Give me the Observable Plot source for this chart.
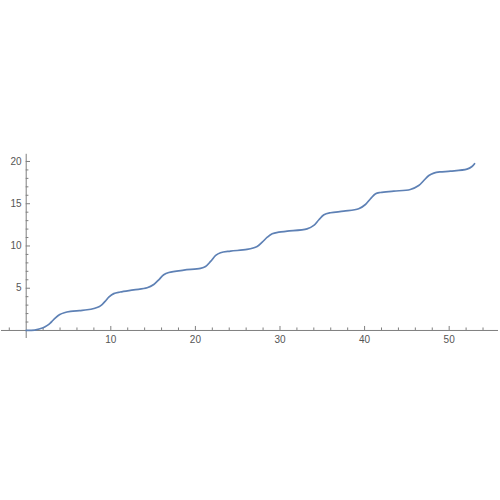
<!DOCTYPE html>
<html>
<head>
<meta charset="utf-8">
<script src="https://cdn.jsdelivr.net/npm/d3@7"></script>
<script src="https://cdn.jsdelivr.net/npm/@observablehq/plot@0.6"></script>
<style>
  html, body { margin: 0; padding: 0; background: #fff; }
  #chart { width: 500px; height: 500px; }
</style>
</head>
<body>
<div id="chart"></div>
<script>
// Curve samples
const xs = [0, 1.0, 2.0, 2.5, 2.87, 3.14, 3.46, 3.97, 4.5, 5.24, 6.3, 7.2, 8.0, 8.6, 9.0, 9.42, 9.76, 10.35, 11.1, 12.7, 14.3, 15.08, 15.67, 16.26, 16.86, 18.63, 20.6, 21.2, 21.8, 22.4, 22.97, 24.15, 26.1, 27.3, 27.9, 28.5, 29.08, 29.86, 30.85, 33.2, 34.0, 34.6, 35.2, 35.97, 37.54, 39.3, 40.1, 40.7, 41.3, 41.88, 43.45, 45.4, 46.4, 47.0, 47.6, 48.18, 48.9, 50.15, 52.1, 52.7, 53.0];
const ys = [0, 0.05, 0.32, 0.6, 0.9, 1.18, 1.5, 1.89, 2.1, 2.25, 2.36, 2.45, 2.6, 2.8, 3.1, 3.55, 3.94, 4.36, 4.55, 4.8, 5.05, 5.44, 6.0, 6.6, 6.86, 7.14, 7.35, 7.57, 8.17, 8.88, 9.2, 9.39, 9.59, 9.94, 10.45, 11.04, 11.44, 11.63, 11.75, 12.03, 12.43, 13.1, 13.69, 13.93, 14.12, 14.4, 14.91, 15.59, 16.18, 16.33, 16.49, 16.69, 17.16, 17.75, 18.34, 18.62, 18.76, 18.85, 19.09, 19.41, 19.73];

// Axis ticks and labels
const xMajor = [10, 20, 30, 40, 50];
const xMinor = [-2, 2, 4, 6, 8, 12, 14, 16, 18, 22, 24, 26, 28, 32, 34, 36, 38, 42, 44, 46, 48, 52, 54];
const yMajor = [5, 10, 15, 20];
const yMinor = [1, 2, 3, 4, 6, 7, 8, 9, 11, 12, 13, 14, 16, 17, 18, 19];
const xDomain = [-2.92, 55.83];
const yDomain = [-0.95, 20.85];

const data = xs.map((x, i) => ({x, y: ys[i]}));

const axisColor = "#7f7f7f";
const labelColor = "#555555";

const chart = Plot.plot({
  width: 500,
  height: 500,
  marginLeft: 1,
  marginRight: 2,
  marginTop: 153.8,
  marginBottom: 162,
  style: {fontFamily: "'Liberation Sans', Arial, sans-serif", fontSize: "10px", background: "#fff"},
  x: {domain: xDomain, axis: null},
  y: {domain: yDomain, axis: null},
  marks: [
    Plot.ruleY([0], {stroke: axisColor, strokeWidth: 1}),
    Plot.ruleX([0], {stroke: axisColor, strokeWidth: 1}),
    Plot.ruleX(xMajor, {x: d => d, y1: 0, y2: 0, insetTop: -4, stroke: axisColor}),
    Plot.ruleX(xMinor, {x: d => d, y1: 0, y2: 0, insetTop: -2.5, stroke: axisColor}),
    Plot.ruleY(yMajor, {y: d => d, x1: 0, x2: 0, insetRight: -4.3, stroke: axisColor}),
    Plot.ruleY(yMinor, {y: d => d, x1: 0, x2: 0, insetRight: -2.7, stroke: axisColor}),
    Plot.text(xMajor, {x: d => d, y: 0, dy: 9, text: d => String(d), fill: labelColor, fontSize: 10}),
    Plot.text(yMajor, {x: 0, y: d => d, dx: -4.7, textAnchor: "end", text: d => String(d), fill: labelColor, fontSize: 10}),
    Plot.line(data, {x: "x", y: "y", curve: "catmull-rom", stroke: "#5e81b5", strokeWidth: 1.7})
  ]
});
document.getElementById("chart").appendChild(chart);
</script>
</body>
</html>
